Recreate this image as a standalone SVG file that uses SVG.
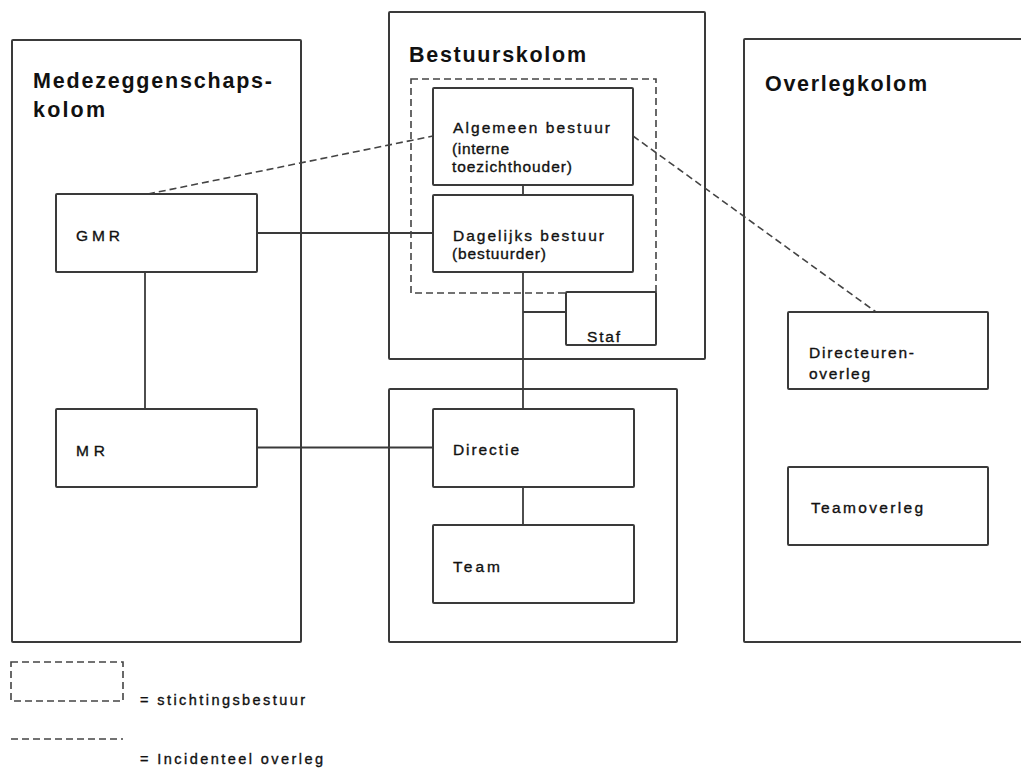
<svg xmlns="http://www.w3.org/2000/svg" width="1021" height="769" viewBox="0 0 1021 769">
<style>
.col{fill:none;stroke:#3a3a3a;stroke-width:2}
.box{fill:#fff;stroke:#3a3a3a;stroke-width:2}
.dash{fill:none;stroke:#444;stroke-width:1.6;stroke-dasharray:7 4}
.conn{fill:none;stroke:#3a3a3a;stroke-width:1.8}
.title{font-family:"Liberation Sans",Arial,sans-serif;font-size:21.5px;font-weight:bold;fill:#111}
.lbl{font-family:"Liberation Sans",Arial,sans-serif;font-size:15.5px;fill:#111;stroke:#111;stroke-width:0.35}
.leg{font-family:"Liberation Sans",Arial,sans-serif;font-size:14.5px;fill:#111;stroke:#111;stroke-width:0.35}
</style>
<rect width="1021" height="769" fill="#fff"/>

<g id="medezeggenschapskolom">
<rect class="col" x="12" y="40" width="289" height="602" rx="1"/>
<text class="title" x="33" y="88" textLength="239" lengthAdjust="spacing">Medezeggenschaps-</text>
<text class="title" x="33" y="117" textLength="72" lengthAdjust="spacing">kolom</text>
</g>
<g id="bestuurskolom">
<rect class="col" x="389" y="12" width="316" height="347" rx="1"/>
<text class="title" x="409" y="62" textLength="177" lengthAdjust="spacing">Bestuurskolom</text>
</g>
<g id="schoolkolom">
<rect class="col" x="389" y="389" width="288" height="253" rx="1"/>
</g>
<g id="overlegkolom">
<rect class="col" x="744" y="39" width="300" height="603" rx="1"/>
<text class="title" x="765" y="91" textLength="162" lengthAdjust="spacing">Overlegkolom</text>
</g>

<g id="connectors">
<line class="conn" x1="257" y1="233" x2="433" y2="233"/>
<line class="conn" x1="145" y1="272" x2="145" y2="409"/>
<line class="conn" x1="257" y1="447.5" x2="433" y2="447.5"/>
<line class="conn" x1="523" y1="185" x2="523" y2="195"/>
<line class="conn" x1="523" y1="272" x2="523" y2="409"/>
<line class="conn" x1="523" y1="312" x2="566" y2="312"/>
<line class="conn" x1="523" y1="487" x2="523" y2="525"/>
<line class="dash" x1="148" y1="194" x2="433" y2="136"/>
<line class="dash" x1="633" y1="136" x2="876" y2="312"/>
</g>

<g id="stichtingsbestuur">
<rect class="dash" x="411" y="79" width="245" height="214"/>
</g>

<g id="gmr">
<rect class="box" x="56" y="194" width="201" height="78" rx="1"/>
<text class="lbl" x="76" y="241" textLength="44" lengthAdjust="spacing">GMR</text>
</g>
<g id="mr">
<rect class="box" x="56" y="409" width="201" height="78" rx="1"/>
<text class="lbl" x="76" y="456" textLength="29" lengthAdjust="spacing">MR</text>
</g>
<g id="algemeen-bestuur">
<rect class="box" x="433" y="88" width="200" height="97" rx="1"/>
<text class="lbl" x="453" y="133" textLength="157" lengthAdjust="spacing">Algemeen bestuur</text>
<text class="lbl" x="452" y="154" textLength="57" lengthAdjust="spacing">(interne</text>
<text class="lbl" x="452" y="172" textLength="120" lengthAdjust="spacing">toezichthouder)</text>
</g>
<g id="dagelijks-bestuur">
<rect class="box" x="433" y="195" width="200" height="77" rx="1"/>
<text class="lbl" x="453" y="241" textLength="151" lengthAdjust="spacing">Dagelijks bestuur</text>
<text class="lbl" x="452" y="259" textLength="94" lengthAdjust="spacing">(bestuurder)</text>
</g>
<g id="staf">
<rect class="box" x="566" y="292" width="90" height="53" rx="1"/>
<text class="lbl" x="587" y="342" textLength="33" lengthAdjust="spacing">Staf</text>
</g>
<g id="directie">
<rect class="box" x="433" y="409" width="201" height="78" rx="1"/>
<text class="lbl" x="453" y="455" textLength="66" lengthAdjust="spacing">Directie</text>
</g>
<g id="team">
<rect class="box" x="433" y="525" width="201" height="78" rx="1"/>
<text class="lbl" x="453" y="572" textLength="47" lengthAdjust="spacing">Team</text>
</g>
<g id="directeurenoverleg">
<rect class="box" x="788" y="312" width="200" height="77" rx="1"/>
<text class="lbl" x="809" y="358" textLength="105" lengthAdjust="spacing">Directeuren-</text>
<text class="lbl" x="809" y="379" textLength="61" lengthAdjust="spacing">overleg</text>
</g>
<g id="teamoverleg">
<rect class="box" x="788" y="467" width="200" height="78" rx="1"/>
<text class="lbl" x="811" y="513" textLength="112" lengthAdjust="spacing">Teamoverleg</text>
</g>

<g id="legenda">
<rect class="dash" x="11" y="662" width="112" height="39"/>
<text class="leg" x="140" y="705" textLength="165" lengthAdjust="spacing">= stichtingsbestuur</text>
<line class="dash" x1="11" y1="739" x2="123" y2="739"/>
<text class="leg" x="140" y="764" textLength="183" lengthAdjust="spacing">= Incidenteel overleg</text>
</g>
</svg>
